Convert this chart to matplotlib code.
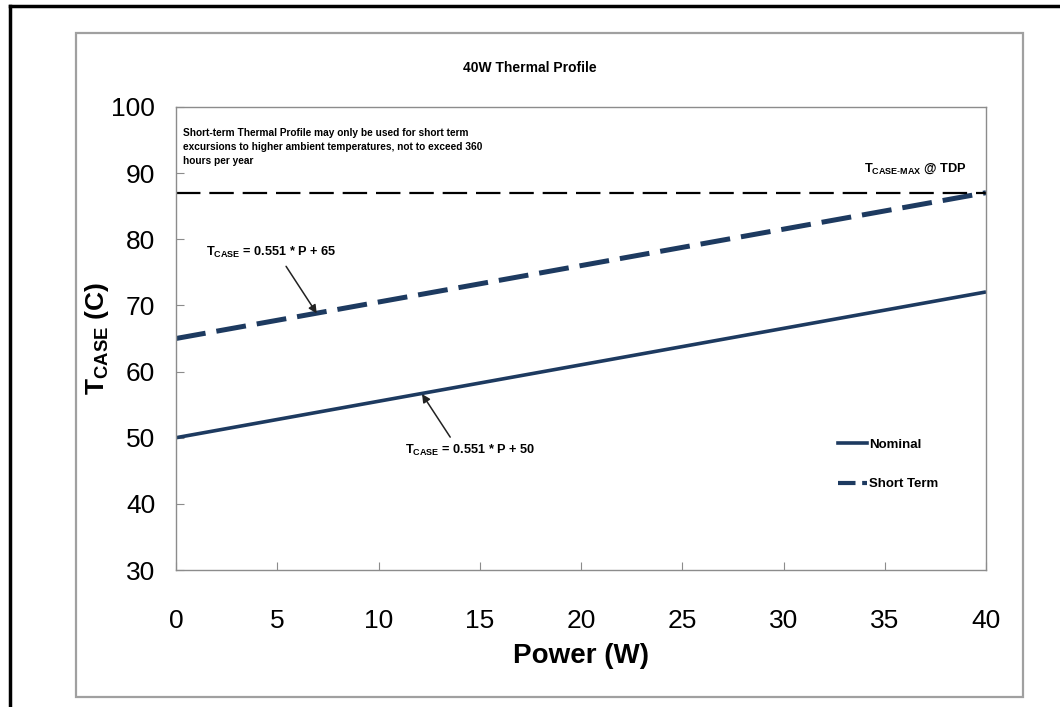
import matplotlib
matplotlib.use("Agg")
import matplotlib.pyplot as plt
from matplotlib import font_manager
from matplotlib.lines import Line2D
from matplotlib.patches import Rectangle
import numpy as np

# pick a condensed face if one is installed
NARROW = "Liberation Sans Narrow"
try:
    font_manager.findfont(NARROW, fallback_to_default=False)
except Exception:
    NARROW = "Liberation Sans"

plt.rcParams["font.family"] = [NARROW, "DejaVu Sans"]
plt.rcParams["mathtext.fontset"] = "custom"
plt.rcParams["mathtext.rm"] = NARROW
plt.rcParams["mathtext.bf"] = NARROW + ":bold"

# data
POWER = [0, 40]
SLOPE = 0.551
NOMINAL_OFFSET = 50
SHORT_OFFSET = 65
TCASE_MAX = 87
X_TICKS = [0, 5, 10, 15, 20, 25, 30, 35, 40]
Y_TICKS = [30, 40, 50, 60, 70, 80, 90, 100]

NAVY = "#1d3a60"
GRAY = "#8c8c8c"

p = np.array(POWER, dtype=float)
nominal = SLOPE * p + NOMINAL_OFFSET
short = SLOPE * p + SHORT_OFFSET

fig = plt.figure(figsize=(10.6, 7.07), dpi=100)
W, H = 1060, 707

# outer page frame (clipped at right / bottom) and inner grey chart frame
fig.add_artist(Line2D([10 / W, 10 / W], [0, 1 - 6 / H], color="black", lw=2.5,
                      transform=fig.transFigure))
fig.add_artist(Line2D([10 / W, 1], [1 - 6 / H, 1 - 6 / H], color="black", lw=2.5,
                      transform=fig.transFigure))
fig.add_artist(Rectangle((76 / W, 1 - 697 / H), (1023 - 76) / W, (697 - 33) / H,
                         transform=fig.transFigure, fill=False, ec="#a0a0a0", lw=1.6))

ax = fig.add_axes([176 / W, 1 - 570 / H, (986 - 176) / W, (570 - 107) / H])

ax.plot(p, nominal, color=NAVY, lw=2.6, solid_capstyle="butt")
ax.plot(p, short, color=NAVY, lw=3.6, dashes=(6, 2.2))
ax.axhline(TCASE_MAX, color="black", lw=1.6, dashes=(11, 4))

ax.set_xlim(0, 40)
ax.set_ylim(30, 100)
ax.set_xticks(X_TICKS)
ax.set_yticks(Y_TICKS)
ax.tick_params(direction="in", length=6, color=GRAY, labelsize=19)
ax.tick_params(axis="x", pad=28)
ax.tick_params(axis="y", pad=15)
for s in ax.spines.values():
    s.set_color(GRAY)
    s.set_linewidth(1.0)

ax.set_xlabel("Power (W)", fontsize=20, fontweight="bold", labelpad=7)
ax.set_ylabel(r"$\mathbf{T_{CASE}}$ (C)", fontsize=19, fontweight="bold",
              family=["Liberation Sans", "DejaVu Sans"], labelpad=0)

fig.text(530 / W, 1 - 68 / H, "40W Thermal Profile", ha="center", va="center",
         fontsize=10, fontweight="bold")

ax.text(0.35, 96.9, "Short-term Thermal Profile may only be used for short term\n"
        "excursions to higher ambient temperatures, not to exceed 360\n"
        "hours per year", fontsize=7.3, fontweight="bold", va="top", ha="left",
        linespacing=1.55)

ax.text(39.05, 89.5, r"$\mathbf{T_{CASE\text{-}MAX}}$ @ TDP", fontsize=9.2,
        fontweight="bold", ha="right", va="bottom")

ax.annotate(r"$\mathbf{T_{CASE}}$ = 0.551 * P + 65", xy=(6.95, 68.8),
            xytext=(1.5, 78.0), fontsize=9.2, fontweight="bold",
            ha="left", va="center",
            arrowprops=dict(arrowstyle="-|>", color="#222222", lw=1.1,
                            mutation_scale=12, shrinkA=3, shrinkB=0,
                            relpos=(0.58, 0.0)))
ax.annotate(r"$\mathbf{T_{CASE}}$ = 0.551 * P + 50", xy=(12.15, 56.6),
            xytext=(11.3, 48.0), fontsize=9.2, fontweight="bold",
            ha="left", va="center",
            arrowprops=dict(arrowstyle="-|>", color="#222222", lw=1.1,
                            mutation_scale=12, shrinkA=3, shrinkB=0,
                            relpos=(0.38, 1.0)))

# legend handles: short dashes so the pattern reads "— -" like the original
handles = [Line2D([], [], color=NAVY, lw=2.6),
           Line2D([], [], color=NAVY, lw=3.0, dashes=(4.2, 1.6))]
ax.legend(handles, ["Nominal", "Short Term"], loc="upper left",
          bbox_to_anchor=(0.803, 0.309), frameon=False, handlelength=2.2,
          handletextpad=0.1, labelspacing=2.05,
          prop={"weight": "bold", "size": 9.5})

fig.savefig("out.png", dpi=100)
